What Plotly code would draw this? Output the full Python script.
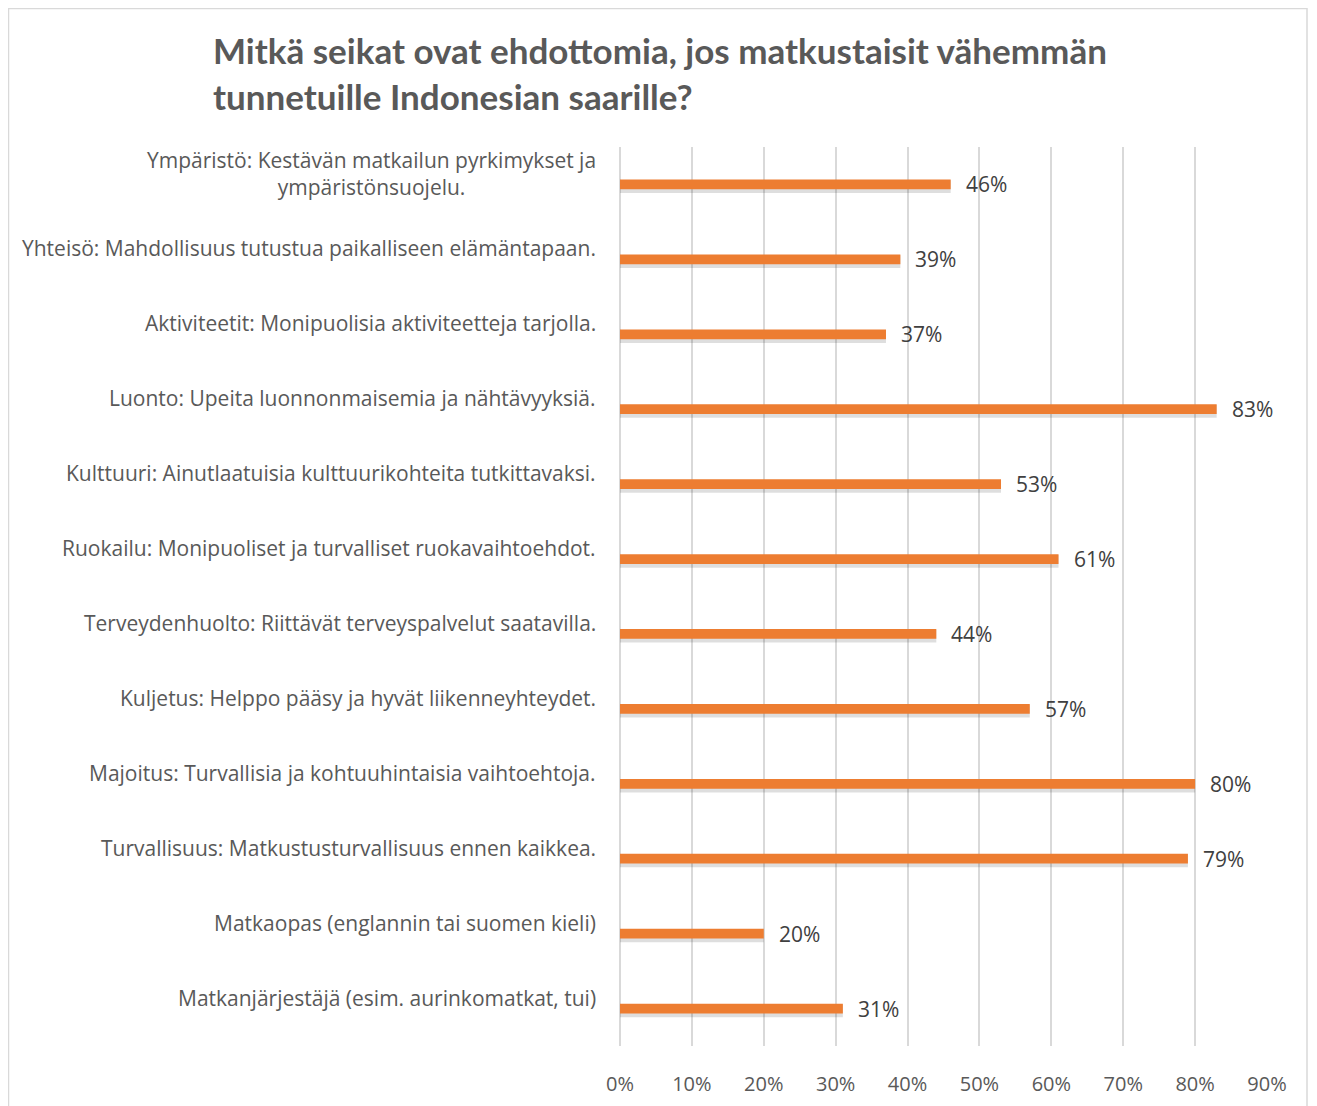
import plotly.graph_objects as go

categories = [
    "Ympäristö: Kestävän matkailun pyrkimykset ja<br>ympäristönsuojelu.",
    "Yhteisö: Mahdollisuus tutustua paikalliseen elämäntapaan.",
    "Aktiviteetit: Monipuolisia aktiviteetteja tarjolla.",
    "Luonto: Upeita luonnonmaisemia ja nähtävyyksiä.",
    "Kulttuuri: Ainutlaatuisia kulttuurikohteita tutkittavaksi.",
    "Ruokailu: Monipuoliset ja turvalliset ruokavaihtoehdot.",
    "Terveydenhuolto: Riittävät terveyspalvelut saatavilla.",
    "Kuljetus: Helppo pääsy ja hyvät liikenneyhteydet.",
    "Majoitus: Turvallisia ja kohtuuhintaisia vaihtoehtoja.",
    "Turvallisuus: Matkustusturvallisuus ennen kaikkea.",
    "Matkaopas (englannin tai suomen kieli)",
    "Matkanjärjestäjä (esim. aurinkomatkat, tui)",
]
values = [46, 39, 37, 83, 53, 61, 44, 57, 80, 79, 20, 31]
tick_vals = [0, 10, 20, 30, 40, 50, 60, 70, 80, 90]
title_text = "Mitkä seikat ovat ehdottomia, jos matkustaisit vähemmän<br>tunnetuille Indonesian saarille?"

FONT = "Open Sans"
TEXT = "#404040"
MUTED = "#595959"
ORANGE = "#ED7D31"
GRID = "#d9d9d9"

# page is drawn with an 8px body margin, so the plot box is laid out in figure px
L, R, T, B = 612, 58, 139, 68
PW, PH = 1317 - L - R, 1106 - T - B

fig = go.Figure()
# soft drop shadow under each bar
fig.add_trace(
    go.Bar(
        x=values, y=categories, orientation="h",
        marker=dict(color="rgba(0,0,0,0.13)", line=dict(width=0)),
        width=0.17, offset=-0.055,
        hoverinfo="skip", showlegend=False,
    )
)
fig.add_trace(
    go.Bar(
        x=values, y=categories, orientation="h",
        marker=dict(color=ORANGE, line=dict(width=0)),
        width=0.13, offset=-0.065,
        showlegend=False,
    )
)

annotations = []
for cat, val in zip(categories, values):
    annotations.append(dict(
        x=0, y=cat, xref="x", yref="y", text=cat, showarrow=False,
        xanchor="right", align="center", xshift=-22, yshift=11,
        font=dict(family=FONT, size=21, color=MUTED),
    ))
    annotations.append(dict(
        x=val, y=cat, xref="x", yref="y", text=f"{val}%", showarrow=False,
        xanchor="left", xshift=13,
        font=dict(family=FONT, size=21, color=TEXT),
    ))

annotations.append(dict(
    text=title_text, xref="paper", yref="paper",
    x=(203 - L) / PW, y=(1106 - B - 19) / PH,
    xanchor="left", yanchor="top", align="left", showarrow=False,
    font=dict(family="Lato", size=35, color=MUTED, weight="bold"),
))

fig.update_layout(
    width=1317, height=1106,
    barmode="overlay",
    paper_bgcolor="white", plot_bgcolor="white",
    font=dict(family=FONT, color=MUTED),
    margin=dict(l=L, r=R, t=T, b=B),
    xaxis=dict(
        range=[0, 90], tickvals=tick_vals,
        ticktext=[f"{v}%" for v in tick_vals],
        showgrid=True, gridcolor=GRID, gridwidth=1.5,
        zeroline=True, zerolinecolor=GRID, zerolinewidth=1.5,
        showline=False, ticks="", ticklabelstandoff=24,
        tickfont=dict(family=FONT, size=20, color=MUTED),
    ),
    yaxis=dict(autorange="reversed", showticklabels=False, showgrid=False,
               zeroline=False, showline=False),
    annotations=annotations,
    shapes=[dict(
        type="rect", xref="paper", yref="paper",
        x0=(0.5 - L) / PW, x1=(1299 - L) / PW,
        y0=(1106 - B - 1115) / PH, y1=(1106 - B - 0.5) / PH,
        line=dict(color=GRID, width=1.5), layer="below",
    )],
)

fig.write_html("out.html")
